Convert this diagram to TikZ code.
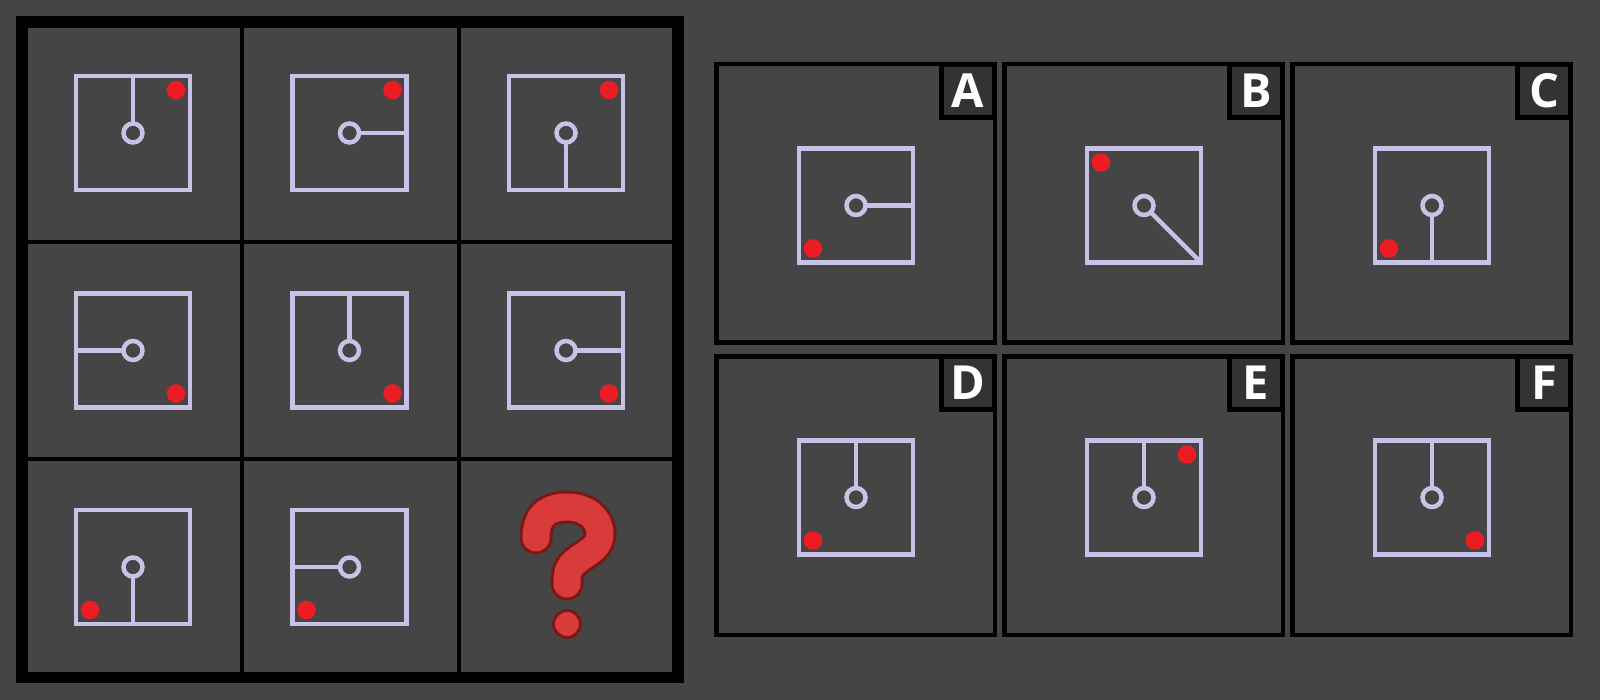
\documentclass[tikz,border=0pt]{standalone}
\usepackage{fontspec}
\setsansfont{Open Sans}
\usepackage{tikz}
\usetikzlibrary{positioning}
\definecolor{bg}{HTML}{454545}
\definecolor{lilac}{HTML}{C8C2E6}
\definecolor{dotred}{HTML}{EC1C24}
\definecolor{qred}{HTML}{D93B3B}
\definecolor{qdark}{HTML}{7A1818}
\definecolor{tagbg}{HTML}{333333}

\newcommand{\puzzlefig}[3]{%
  \begin{scope}[shift={(#1)}]
    \draw[fig] (-57,-57) rectangle (57,57);
    \draw[fig] (0,0) -- #2;
    \draw[fig, fill=bg] (0,0) circle (9.5);
    \fill[dotred] #3 circle (9.3);
  \end{scope}}

\begin{document}
\begin{tikzpicture}[
      x=1pt, y=-1pt,
      node distance=5pt,
      fig/.style={draw=lilac, line width=4.5pt},
      panel/.style={rectangle, draw=black, fill=bg, line width=4.5pt,
                    minimum size=278.5pt, inner sep=0pt},
      tag/.style={rectangle, draw=black, fill=tagbg, line width=5pt, minimum size=53pt,
                  inner sep=0pt, text=white, font=\sffamily\bfseries\fontsize{47}{47}\selectfont},
      qline/.style={line cap=round, line join=round}
    ]
      \fill[bg] (0,0) rectangle (1600,700);

      % puzzle grid
      \foreach \p in {242,459} {
        \draw[line width=4pt] (\p,28) -- (\p,672);
        \draw[line width=4pt] (28,\p) -- (672,\p);
      }
      \draw[line width=11.5pt] (22,22) rectangle (678,677.5);
      \foreach \c/\x in {1/133,2/349.5,3/566}
        \foreach \r/\y in {1/133,2/350.5,3/567}
          \coordinate (g\r\c) at (\x,\y);

      \puzzlefig{g11}{(0,-57)}{(43,-43)}
      \puzzlefig{g12}{(57,0)}{(43,-43)}
      \puzzlefig{g13}{(0,57)}{(43,-43)}
      \puzzlefig{g21}{(-57,0)}{(43,43)}
      \puzzlefig{g22}{(0,-57)}{(43,43)}
      \puzzlefig{g23}{(57,0)}{(43,43)}
      \puzzlefig{g31}{(0,57)}{(-43,43)}
      \puzzlefig{g32}{(-57,0)}{(-43,43)}

      % missing cell
      \begin{scope}[shift={(g33)}]
        \foreach \w/\col in {33/qdark,27/qred}
          \draw[qline, line width=\w pt, \col] (-30,-29) .. controls (-30,-55) and (-14,-60) .. (1,-60)
            .. controls (20,-60) and (34,-49) .. (34,-33) .. controls (34,-18) and (19,-14) .. (9,-5)
            .. controls (2,1) and (1,5) .. (1,17);
        \draw[qdark, fill=qred, line width=3pt] (1,57) circle (13.5);
      \end{scope}

      % answer options
      \node[panel] (optA) at (855.5,203.5) {};
      \node[panel, right=of optA] (optB) {};
      \node[panel, right=of optB] (optC) {};
      \node[panel, below=9pt of optA] (optD) {};
      \node[panel, right=of optD] (optE) {};
      \node[panel, right=of optE] (optF) {};
      \foreach \o in {A,...,F} {
        \node[tag, anchor=north east] (tag\o) at (opt\o.north east) {\o};
        \coordinate (f\o) at ([shift={(0.5,2)}]opt\o.center);
      }

      \puzzlefig{fA}{(57,0)}{(-43,43)}
      \puzzlefig{fB}{(57,57)}{(-43,-43)}
      \puzzlefig{fC}{(0,57)}{(-43,43)}
      \puzzlefig{fD}{(0,-57)}{(-43,43)}
      \puzzlefig{fE}{(0,-57)}{(43,-43)}
      \puzzlefig{fF}{(0,-57)}{(43,43)}
    \end{tikzpicture}
\end{document}
